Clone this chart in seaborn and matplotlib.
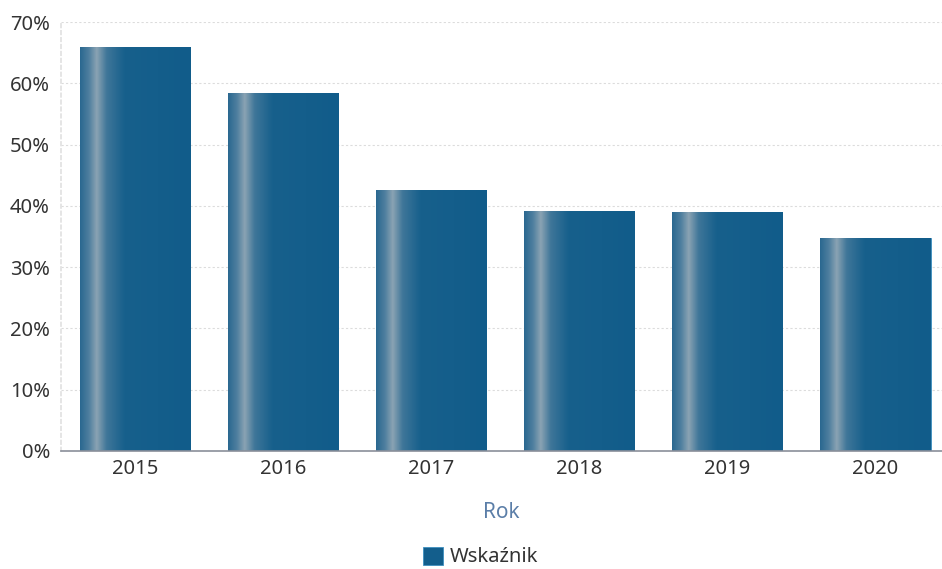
import numpy as np
import pandas as pd
import matplotlib
matplotlib.use("Agg")
import matplotlib.pyplot as plt
import seaborn as sns
from matplotlib.colors import LinearSegmentedColormap
from matplotlib.ticker import FuncFormatter

years = ["2015", "2016", "2017", "2018", "2019", "2020"]
values = [65.9, 58.4, 42.6, 39.2, 39.0, 34.7]
series_name = "Wskaźnik"
x_label = "Rok"

sns.set_theme(style="white")
plt.rcParams['font.family'] = ['Noto Sans', 'DejaVu Sans']

df = pd.DataFrame({"Rok": years, "val": values})

fig = plt.figure(figsize=(9.42, 5.69), dpi=100)
ax = fig.add_axes([61/942, 1-451/569, 1-61/942, (451-22)/569])

base = "#135e8c"
sns.barplot(data=df, x="Rok", y="val", color=base, width=0.745, ax=ax,
            saturation=1, label=series_name)

grad = LinearSegmentedColormap.from_list(
    "g", [(0.0, "#2a6890"), (0.08, "#4f7f9f"), (0.15, "#8aa3b3"),
          (0.24, "#3f7699"), (0.4, "#17608c"), (1.0, "#115c8a")])
gimg = np.linspace(0, 1, 256).reshape(1, -1)
for p in ax.patches:
    x0, y0 = p.get_x(), p.get_y()
    w, h = p.get_width(), p.get_height()
    im = ax.imshow(gimg, cmap=grad, aspect="auto",
                   extent=[x0, x0 + w, y0, y0 + h], zorder=p.get_zorder() + 0.1)
    im.set_clip_path(p)
    p.set_edgecolor("#3d8fc0")
    p.set_linewidth(0.6)

ax.set_ylim(0, 70)
ax.set_yticks(np.arange(0, 71, 10))
ax.yaxis.set_major_formatter(FuncFormatter(lambda v, _: f"{int(v)}%"))
ax.grid(axis="y", color="#dcdcdc", linestyle=(0, (2, 2)), linewidth=0.8)
ax.set_axisbelow(True)
for s in ["top", "right"]:
    ax.spines[s].set_visible(False)
ax.spines["left"].set_color("#e2e2e2")
ax.spines["left"].set_linestyle((0, (2, 2)))
ax.spines["bottom"].set_color("#8a8f9a")
ax.spines["bottom"].set_linewidth(1.2)
ax.tick_params(axis="both", labelsize=14.5, colors="#333333", length=0, pad=6)
ax.tick_params(axis="y", pad=8)
ax.set_ylabel("")
ax.set_xlabel(x_label, fontsize=15, color="#5b7ea8", labelpad=16)

handles, labels = ax.get_legend_handles_labels()
if ax.get_legend() is not None:
    ax.get_legend().remove()
fig.legend(handles, labels, loc="center", bbox_to_anchor=(0.51, 1 - 557/569),
           frameon=False, fontsize=14.5, handlelength=1.0, handleheight=1.0,
           handletextpad=0.3, labelcolor="#333333", borderpad=0)
ax.set_xlim(-0.5, 5.45)

fig.savefig("out.png", dpi=100, facecolor="white")
